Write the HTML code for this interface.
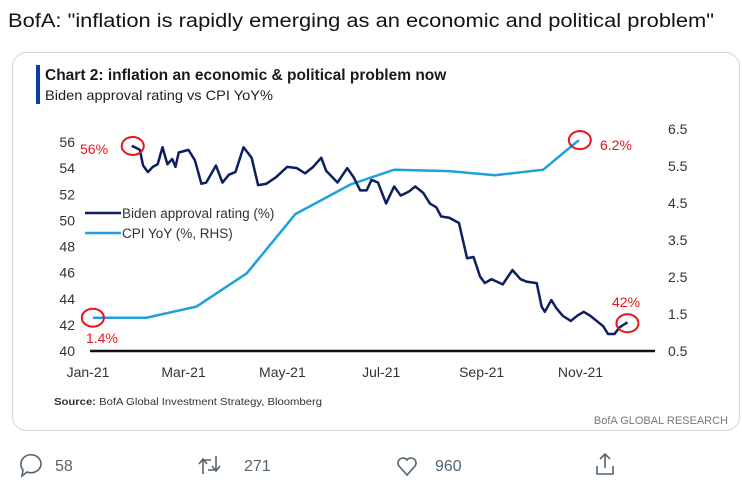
<!DOCTYPE html>
<html><head><meta charset="utf-8">
<style>
body{margin:0;background:#fff;width:742px;height:483px;overflow:hidden;font-family:"Liberation Sans",sans-serif;}
.narrow{font-family:"Liberation Sans Narrow","Liberation Sans",sans-serif;}
</style></head>
<body>
<svg width="742" height="483" xmlns="http://www.w3.org/2000/svg">
<text x="8" y="27" font-size="19" textLength="706" lengthAdjust="spacingAndGlyphs" fill="#0f1419">BofA: "inflation is rapidly emerging as an economic and political problem"</text>
<rect x="12.5" y="52.5" width="727" height="378" rx="14" fill="#fff" stroke="#cfd9de"/>
<rect x="36" y="65" width="4" height="39" fill="#0a3ea8"/>
<text x="45" y="80" font-size="15.5" font-weight="bold" class="narrow" fill="#1a1a1a">Chart 2: inflation an economic &amp; political problem now</text>
<text x="45" y="100" font-size="14" textLength="228" lengthAdjust="spacingAndGlyphs" class="narrow" fill="#222">Biden approval rating vs CPI YoY%</text>
<g id="axes" class="narrow"></g>
<g id="plot"></g>
<text x="54" y="405" font-size="10.5" textLength="268" lengthAdjust="spacingAndGlyphs" class="narrow" fill="#333"><tspan font-weight="bold">Source:</tspan> BofA Global Investment Strategy, Bloomberg</text>
<text x="728" y="424" font-size="11" text-anchor="end" class="narrow" fill="#777">BofA GLOBAL RESEARCH</text>
<g fill="none" stroke="#536471" stroke-width="1.6">
<path d="M21 464 a10 9 0 1 1 6 8 l-5 4 l1-6 a10 9 0 0 1 -2 -6z"/></g>
<text x="55" y="471" font-size="16" fill="#536471">58</text>
<g fill="none" stroke="#536471" stroke-width="1.6">
<path d="M203 474 v-14 h8 M199 464 l4-5 4 5 M216 456 v14 h-8 M212 466 l4 5 4-5"/></g>
<text x="244" y="471" font-size="16" fill="#536471">271</text>
<g fill="none" stroke="#536471" stroke-width="1.6">
<path d="M407 475 l-8-9 a5 5 0 0 1 8-6 a5 5 0 0 1 8 6 z"/></g>
<text x="435" y="471" font-size="16" fill="#536471">960</text>
<g fill="none" stroke="#536471" stroke-width="1.6">
<path d="M605 454 v14 M600 459 l5-5 5 5 M597 466 v8 h16 v-8"/></g>
</svg>
<script>
const approvalDays=[27,29,32,34,37,40,43,46,49,52,54,56,62,66,70,73,79,83,87,91,96,101,105,110,116,123,129,134,139,144,147,154,160,164,168,172,175,179,184,189,193,198,202,207,211,215,218,223,229,234,238,242,245,249,256,262,267,271,277,280,282,286,289,293,298,302,306,310,314,318,321,325,328,333];
const approvalValues=[55.7,55.6,55.4,54.2,53.7,54.1,54.3,55.6,54.3,54.7,54.1,55.2,55.4,54.6,52.8,52.9,54.2,52.9,53.5,53.7,55.6,54.8,52.7,52.8,53.3,54.1,54.0,53.6,54.1,54.8,53.8,52.9,54.0,53.3,52.3,52.3,53.1,52.9,51.3,52.6,51.9,52.2,52.6,52.1,51.3,51.0,50.3,50.2,49.8,47.1,47.2,45.7,45.2,45.5,45.1,46.2,45.5,45.3,45.2,43.4,43.0,43.9,43.3,42.7,42.3,42.7,43.0,42.7,42.3,41.9,41.3,41.3,41.8,42.2];
const cpiDays=[3,36,67,98,128,162,189,223,251,281,303];
const cpiValues=[1.4,1.4,1.7,2.6,4.2,5.0,5.4,5.36,5.25,5.4,6.2];
const leftTicks=[40,42,44,46,48,50,52,54,56];
const rightTicks=["0.5","1.5","2.5","3.5","4.5","5.5","6.5"];
const xTickLabels=["Jan-21","Mar-21","May-21","Jul-21","Sep-21","Nov-21"];
const xTickDays=[0,59,120,181,243,304];

const NS="http://www.w3.org/2000/svg";
const x=d=>88+d*1.62;
const yL=v=>351-(v-40)*13.06;
const yR=v=>351-(v-0.5)*37;
function mk(tag,attrs,parent,txt){const e=document.createElementNS(NS,tag);for(const k in attrs)e.setAttribute(k,attrs[k]);if(txt!==undefined)e.textContent=txt;parent.appendChild(e);return e;}
const axes=document.getElementById('axes'),plot=document.getElementById('plot');
leftTicks.forEach(v=>{const t=mk('text',{x:75,y:yL(v)+5,'font-size':14,'text-anchor':'end',fill:'#333'},axes,v);

});
rightTicks.forEach(v=>{const t=mk('text',{x:668,y:yR(+v)+5,'font-size':14,fill:'#333'},axes,v);

});
xTickLabels.forEach((l,i)=>{const t=mk('text',{x:x(xTickDays[i]),y:377,'font-size':14,'text-anchor':'middle',fill:'#333'},axes,l);

});
const base=mk('line',{x1:90,x2:655,y1:351,y2:351,stroke:'#111','stroke-width':2.5},axes);


const cp=mk('polyline',{points:cpiDays.map((d,i)=>x(d)+','+yR(cpiValues[i])).join(' '),fill:'none',stroke:'#1ea0dc','stroke-width':2.5},plot);


const ap=mk('polyline',{points:approvalDays.map((d,i)=>x(d)+','+yL(approvalValues[i])).join(' '),fill:'none',stroke:'#0c1f5e','stroke-width':2.5,'stroke-linejoin':'round'},plot);


const lg=mk('g',{},plot);


mk('line',{x1:85,x2:121,y1:213,y2:213,stroke:'#0c1f5e','stroke-width':2.5},lg);
mk('text',{x:122,y:218,'font-size':13.5,fill:'#333',class:'narrow'},lg,'Biden approval rating (%)');
mk('line',{x1:85,x2:121,y1:233,y2:233,stroke:'#1ea0dc','stroke-width':2.5},lg);
mk('text',{x:122,y:238,'font-size':13.5,fill:'#333',class:'narrow'},lg,'CPI YoY (%, RHS)');
function ann(cx,cy,tx,ty,label,anchor){const g=mk('g',{},plot);


mk('ellipse',{cx:cx,cy:cy,rx:11,ry:9,fill:'none',stroke:'#e8141c','stroke-width':2},g);
mk('text',{x:tx,y:ty,'font-size':14,fill:'#e8141c','text-anchor':anchor||'start',class:'narrow'},g,label);}
const aS=approvalDays.length-1,cS=cpiDays.length-1;
ann(x(approvalDays[0])+1,yL(approvalValues[0]),80,154,'56%');
ann(x(cpiDays[cS])+1,yR(cpiValues[cS]),600,150,'6.2%');
ann(x(cpiDays[0]),yR(cpiValues[0]),86,343,'1.4%');
ann(x(approvalDays[aS]),yL(approvalValues[aS])+1,612,307,'42%');
</script>
</body></html>
